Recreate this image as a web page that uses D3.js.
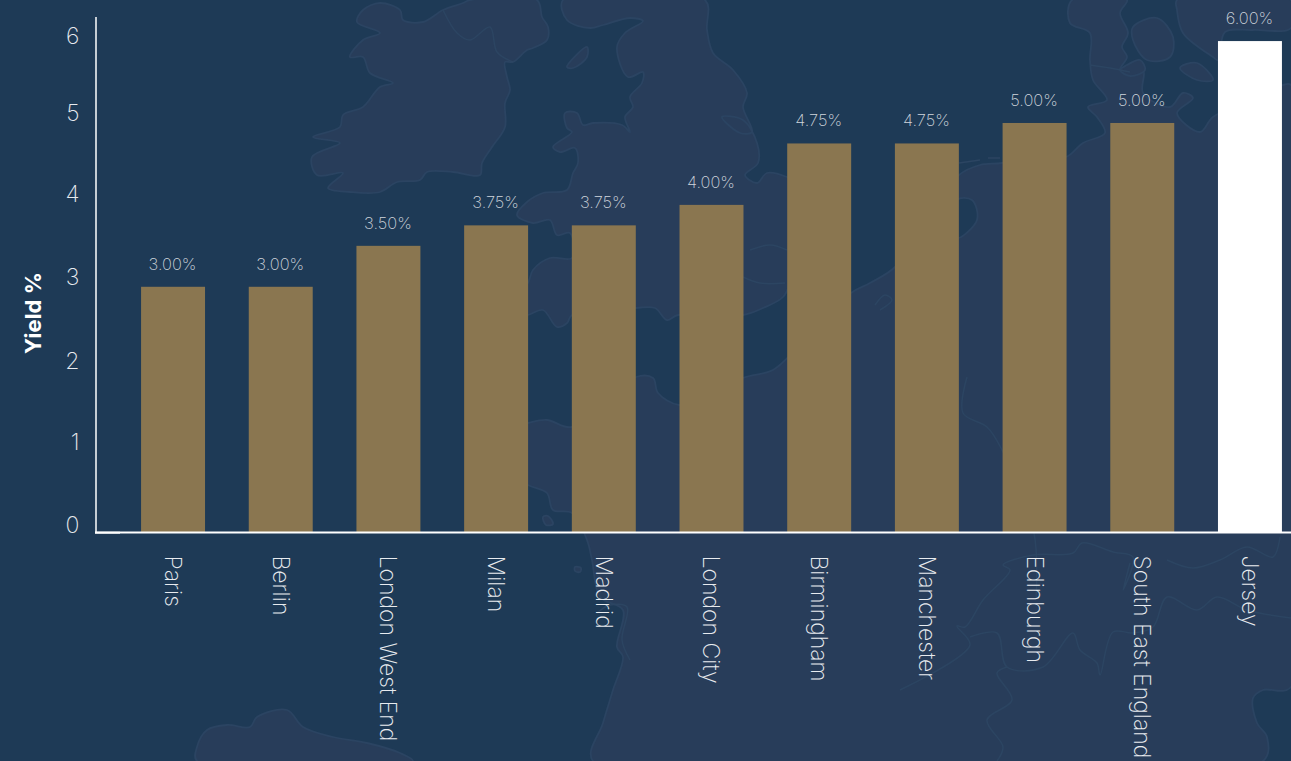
<!DOCTYPE html>
<html>
<head>
<meta charset="utf-8">
<script src="https://cdn.jsdelivr.net/npm/d3@7"></script>
<style>
  html, body { margin: 0; padding: 0; background: #1e3a56; overflow: hidden; }
  svg { display: block; font-family: Inter, sans-serif; }
  .land { fill: #283d5a; stroke: #2b4462; stroke-width: 1.8; stroke-linejoin: round; }
  .sea { fill: #1e3a56; stroke: #2b4462; stroke-width: 1.8; stroke-linejoin: round; }
  .border { fill: none; stroke: #2c4562; stroke-width: 1.5; stroke-linejoin: round; }
  .axis path, .axis line { stroke: #fff; }
  .axis text { fill: #e8ebef; font-family: Inter, sans-serif; font-weight: 200; font-size: 23px; }
  .val { fill: #d0d6dd; font-weight: 200; font-size: 16.4px; text-anchor: middle; }
  .ytitle { fill: #fff; font-weight: 700; font-size: 22px; text-anchor: middle; }
</style>
</head>
<body>
<svg id="chart" width="1291" height="761"></svg>
<script>
const W = 1291;
const H = 761;

const cities = ['Paris', 'Berlin', 'London West End', 'Milan', 'Madrid', 'London City',
  'Birmingham', 'Manchester', 'Edinburgh', 'South East England', 'Jersey'];
const yields = [3, 3, 3.5, 3.75, 3.75, 4, 4.75, 4.75, 5, 5, 6];
const yTicks = [0, 1, 2, 3, 4, 5, 6];
const HIGHLIGHT = 'Jersey';

// the tick labels do not sit evenly in the source, small shift per tick
const tickShift = [0, -1.5, -0.5, -2.5, -3, -2, 2];

// background map (pixels)
const ireland = [[363,10],[380,3],[400,10],[403,20],[423,22],[443,10],[463,3],[470,0],[537,0],[542,17],[548,27],[547,40],[533,48],[527,50],[513,62],[505,62],[507,77],[510,90],[505,103],[505,127],[492,147],[482,163],[480,175],[453,172],[427,172],[420,180],[397,182],[380,192],[350,192],[328,188],[343,173],[317,175],[312,157],[340,143],[313,137],[340,127],[343,115],[363,107],[380,87],[393,83],[370,73],[363,57],[350,57],[363,40],[380,33],[357,22]];
const britain = [[563,0],[567,20],[590,28],[603,25],[630,18],[643,21],[625,33],[617,47],[628,77],[643,72],[642,83],[630,97],[633,107],[625,117],[630,132],[622,125],[593,123],[583,125],[577,113],[565,113],[567,128],[572,132],[553,147],[560,152],[575,148],[578,163],[573,173],[567,190],[543,193],[527,202],[517,215],[533,223],[550,220],[557,235],[570,233],[572,258],[550,258],[533,270],[528,283],[507,310],[497,322],[528,315],[543,310],[557,327],[567,323],[572,315],[636,308],[655,308],[667,320],[678,315],[743,315],[763,308],[783,297],[790,283],[800,240],[807,200],[797,183],[787,177],[767,173],[757,183],[745,175],[758,163],[757,143],[743,120],[722,117],[740,133],[752,132],[743,107],[747,93],[733,70],[713,53],[707,30],[705,0]];
const man = [[567,67],[587,47],[587,57],[573,68]];
const continent = [[593,761],[603,723],[613,690],[623,657],[617,647],[623,610],[600,597],[592,560],[587,540],[572,513],[553,510],[547,493],[528,485],[505,470],[505,430],[528,423],[547,420],[572,427],[636,377],[653,378],[658,393],[679,405],[715,395],[743,378],[773,370],[800,345],[851,293],[870,283],[895,267],[930,215],[959,175],[980,165],[1002,163],[1040,155],[1066,157],[1083,143],[1105,133],[1097,117],[1088,107],[1107,100],[1093,80],[1090,60],[1090,33],[1070,23],[1072,0],[1127,0],[1120,13],[1128,33],[1122,47],[1127,57],[1120,70],[1143,70],[1143,93],[1170,107],[1183,93],[1193,98],[1177,113],[1200,132],[1213,117],[1250,100],[1283,85],[1291,85],[1291,687],[1263,690],[1253,698],[1257,723],[1267,737],[1263,761]];
const ijsselmeer = [[957,200],[972,200],[977,220],[957,238]];
const sweden = [[1177,0],[1177,10],[1183,33],[1213,57],[1218,60],[1225,32],[1253,30],[1291,28],[1291,0]];
const zealand = [[1133,27],[1157,18],[1173,37],[1170,57],[1147,60],[1133,40]];
const funen = [[1127,65],[1140,60],[1145,70],[1130,76],[1120,70]];
const lolland = [[1180,68],[1197,63],[1213,80],[1197,80]];
const spain = [[197,761],[197,747],[207,730],[227,725],[250,727],[257,717],[287,710],[303,727],[333,737],[367,743],[400,753],[413,761]];
const islands = [[[543,517],[548,516],[553,524],[546,525]], [[575,567],[581,568],[580,572],[575,571]], [[700,307],[720,312],[712,320]]];
const borders = [
  [[443,10],[457,33],[470,40],[490,27],[497,52],[513,62]],
  [[900,690],[970,645],[957,626],[965,627],[983,600],[1010,570],[1003,565],[1033,555],[1073,553],[1082,543],[1113,552],[1133,557],[1123,590],[1130,563]],
  [[1167,560],[1193,568],[1220,560],[1247,547],[1273,557],[1280,537]],
  [[970,637],[997,633],[1007,667],[1043,667],[1073,633],[1080,650],[1097,663],[1100,675],[1113,632],[1133,633],[1153,627],[1167,597],[1197,610],[1217,597],[1247,610],[1291,618]],
  [[1007,667],[997,673],[1012,700],[987,720],[1003,747],[997,761]],
  [[967,377],[963,413],[987,427],[1001,448],[1034,533],[1036,600]],
  [[1090,65],[1110,68],[1130,72]],
  [[959,163],[980,160]], [[988,158],[1000,158]],
  [[875,305],[885,295],[892,300],[880,310]],
  [[597,613],[610,605],[627,607],[622,640],[630,660]],
  [[750,250],[770,245],[787,250]], [[743,277],[760,283],[785,283]]
];
const landShapes = [ireland, britain, man, continent, sweden, zealand, funen, lolland, spain, ...islands];

const svg = d3.select('#chart');
const coastLine = d3.line().curve(d3.curveCatmullRomClosed.alpha(0.5));
const borderLine = d3.line().curve(d3.curveCatmullRom.alpha(0.5));

svg.append('rect').attr('width', W).attr('height', H).attr('fill', '#1e3a56');
const gMap = svg.append('g');
gMap.selectAll('path.land').data(landShapes).join('path')
  .attr('class', 'land')
  .attr('d', d => coastLine(d));
gMap.append('path').attr('class', 'sea').attr('d', coastLine(ijsselmeer));
gMap.selectAll('path.border').data(borders).join('path')
  .attr('class', 'border')
  .attr('d', d => borderLine(d));

const x = d3.scaleBand()
  .domain(cities)
  .range([119.2, 1303.8])
  .paddingInner(0.406)
  .paddingOuter(0.203);
const y = d3.scaleLinear().domain([0, 6.3]).range([532.5, 16.5]);

svg.append('g').selectAll('rect')
  .data(cities)
  .join('rect')
  .attr('x', d => x(d))
  .attr('y', (d, i) => y(yields[i]))
  .attr('width', x.bandwidth())
  .attr('height', (d, i) => y(0) - y(yields[i]))
  .attr('fill', d => d === HIGHLIGHT ? '#ffffff' : '#8a7650');

svg.append('g').selectAll('text')
  .data(cities)
  .join('text')
  .attr('class', 'val')
  .attr('x', d => x(d) + x.bandwidth() / 2 - 0.5)
  .attr('y', (d, i) => y(yields[i]) - 17)
  .text((d, i) => yields[i].toFixed(2) + '%');

const yAxis = svg.append('g')
  .attr('class', 'axis')
  .attr('transform', 'translate(95.5,0)')
  .call(d3.axisLeft(y).tickValues(yTicks).tickSize(0).tickPadding(16).tickFormat(d3.format('d')));
yAxis.select('.domain').attr('stroke-width', 1.5);
yAxis.selectAll('text').attr('dy', (d, i) => tickShift[i]);

const xAxis = svg.append('g')
  .attr('class', 'axis')
  .attr('transform', 'translate(0,532.5)')
  .call(d3.axisBottom(x).tickSize(0).tickFormat(d => d));
xAxis.select('.domain').attr('d', `M95,0H${W}`).attr('stroke-width', 1.8);
xAxis.selectAll('text')
  .attr('transform', 'rotate(90)')
  .attr('x', 23)
  .attr('y', 0)
  .attr('dy', '0.35em')
  .attr('text-anchor', 'start');
// short heavier stub at the zero end of the axis
xAxis.append('line').attr('x1', 95).attr('x2', 120).attr('y1', 0.2).attr('y2', 0.2).attr('stroke-width', 1.9);

svg.append('text')
  .attr('class', 'ytitle')
  .attr('transform', 'translate(41,313) rotate(-90)')
  .text('Yield %');
</script>
</body>
</html>
